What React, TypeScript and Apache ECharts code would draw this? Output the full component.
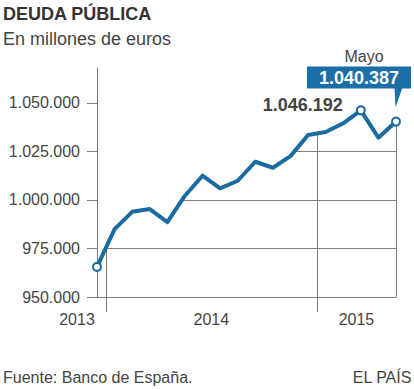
import React, { useEffect, useRef } from "react";
import * as echarts from "echarts";

const months = [
  "dic 2013", "ene 2014", "feb 2014", "mar 2014", "abr 2014", "may 2014",
  "jun 2014", "jul 2014", "ago 2014", "sep 2014", "oct 2014", "nov 2014",
  "dic 2014", "ene 2015", "feb 2015", "mar 2015", "abr 2015", "may 2015",
];
const values = [
  965500, 985000, 993900, 995300, 988600, 1002200, 1012500, 1006000, 1009900,
  1019700, 1016600, 1022600, 1033500, 1035000, 1039500, 1046192, 1032100, 1040387,
];
const yTicks = [950000, 975000, 1000000, 1025000, 1050000];
const gridLevels = [975000, 1000000, 1025000, 1050000];
const yearLabels = ["2013", "2014", "2015"];
const yearLabelPos = [0, 6.5, 14.75];
const yearBoundaries = [0.5, 12.5];
const peakIndex = 15;
const lastIndex = 17;
const lastLabel = "Mayo";

const FONT = "'Liberation Sans', Arial, sans-serif";
const BLUE = "#1a6b9f";
const BOX = "#1b6fa6";
const GRID = "#7d7d7d";
const TEXT = "#444";

const fmt = (v: number) =>
  Math.round(v).toString().replace(/\B(?=(\d{3})+(?!\d))/g, ".");

export default function App() {
  const ref = useRef<HTMLDivElement>(null);
  useEffect(() => {
    document.body.style.margin = "0";
    if (!ref.current) return;
    const chart = echarts.init(ref.current, null, { renderer: "svg" });
    const pts = values.map((v, i) => [i, v]);
    const mainData = pts.map((p, i) => {
      const item: any = { value: p, name: months[i], symbol: "none" };
      if (i === 0 || i === peakIndex || i === lastIndex) {
        item.symbol = "circle";
        item.symbolSize = 8;
      }
      if (i === peakIndex) {
        item.label = {
          show: true,
          position: "left",
          distance: 13,
          offset: [0, -5],
          formatter: () => fmt(values[peakIndex]),
          fontFamily: FONT,
          fontSize: 18,
          fontWeight: "bold",
          color: TEXT,
        };
      }
      if (i === lastIndex) {
        item.label = {
          show: true,
          position: "inside",
          offset: [-37, -56],
          align: "center",
          verticalAlign: "middle",
          formatter: () => `{m|${lastLabel}}\n{v|${fmt(values[lastIndex])}}`,
          rich: {
            m: {
              fontFamily: FONT,
              fontSize: 16,
              color: TEXT,
              lineHeight: 24,
              padding: [0, 0, 0, 10],
              align: "center",
            },
            v: {
              fontFamily: FONT,
              fontSize: 18,
              fontWeight: "bold",
              color: "#fff",
              backgroundColor: BOX,
              lineHeight: 18,
              padding: [2, 12, 2, 12],
              align: "center",
            },
          },
        };
      }
      return item;
    });

    const lineStyleGrid = { color: GRID, width: 1, type: "solid" as const };

    chart.setOption({
      animation: false,
      title: [
        {
          text: "DEUDA PÚBLICA",
          left: 3,
          top: 5,
          padding: 0,
          textStyle: { fontFamily: FONT, fontSize: 18, fontWeight: "bold", color: "#333" },
        },
        {
          text: "En millones de euros",
          left: 3,
          top: 30,
          padding: 0,
          textStyle: { fontFamily: FONT, fontSize: 18, fontWeight: "normal", color: TEXT },
        },
        {
          text: "Fuente: Banco de España.",
          left: 3,
          top: 369,
          padding: 0,
          textStyle: { fontFamily: FONT, fontSize: 16, fontWeight: "normal", color: TEXT },
        },
        {
          text: "EL PAÍS",
          right: 2,
          top: 369,
          padding: 0,
          textStyle: { fontFamily: FONT, fontSize: 16, fontWeight: "normal", color: TEXT },
        },
      ],
      grid: { left: 97, right: 18, top: 68, bottom: 92, containLabel: false },
      xAxis: {
        type: "value",
        min: 0,
        max: 17,
        z: 3,
        splitLine: { show: false },
        axisLine: { show: true, lineStyle: { color: GRID, width: 1 } },
        axisTick: {
          show: true,
          customValues: yearBoundaries,
          length: 15,
          lineStyle: { color: GRID, width: 1 },
        },
        axisLabel: {
          show: true,
          customValues: yearLabelPos,
          margin: 14,
          hideOverlap: false,
          fontFamily: FONT,
          fontSize: 16,
          color: TEXT,
          formatter: (v: number) => {
            const idx = yearLabelPos.findIndex((p) => Math.abs(p - v) < 1e-6);
            if (idx < 0) return "";
            return idx === 0 ? `{a|${yearLabels[idx]}}` : yearLabels[idx];
          },
          rich: {
            a: { fontFamily: FONT, fontSize: 16, color: TEXT, padding: [0, 40, 0, 0] },
          },
        },
      },
      yAxis: {
        type: "value",
        min: 950000,
        max: 1068000,
        z: 3,
        splitLine: { show: false },
        axisLine: { show: true, lineStyle: { color: GRID, width: 1 } },
        axisTick: {
          show: true,
          customValues: yTicks,
          length: 10,
          lineStyle: { color: GRID, width: 1 },
        },
        axisLabel: {
          show: true,
          customValues: yTicks,
          margin: 17,
          fontFamily: FONT,
          fontSize: 16,
          color: TEXT,
          formatter: (v: number) => fmt(v),
        },
      },
      series: [
        {
          type: "line",
          z: 1,
          silent: true,
          data: pts,
          symbol: "none",
          lineStyle: { opacity: 0, width: 0 },
          markLine: {
            z: 1,
            silent: true,
            symbol: ["none", "none"],
            label: { show: false },
            emphasis: { disabled: true },
            lineStyle: lineStyleGrid,
            data: [
              ...gridLevels.map((l) => ({ yAxis: l })),
              ...yearBoundaries.map((b) => ({ xAxis: b })),
              [
                { coord: [lastIndex, yTicks[0]] },
                { coord: [lastIndex, values[lastIndex]] },
              ],
            ],
          },
        },
        {
          type: "line",
          z: 2,
          silent: true,
          data: pts,
          symbol: "none",
          lineStyle: { opacity: 0, width: 0 },
          areaStyle: { color: "#fff", opacity: 1, origin: "end" },
        },
        {
          type: "line",
          z: 4,
          data: mainData,
          symbol: "none",
          showSymbol: true,
          lineStyle: { color: BLUE, width: 4, join: "round" },
          itemStyle: { color: "#fff", borderColor: BLUE, borderWidth: 2 },
          emphasis: { disabled: true },
          markPoint: {
            z: 5,
            silent: true,
            label: { show: false },
            data: [
              {
                coord: [lastIndex, values[lastIndex]],
                symbol: "path://M0,0 L8,0 L1,20 Z",
                symbolSize: [8, 20],
                symbolKeepAspect: false,
                symbolOffset: [2.5, -24],
                itemStyle: { color: BOX },
              },
            ],
          },
        },
      ],
    });
    return () => chart.dispose();
  }, []);
  return <div ref={ref} style={{ width: 414, height: 389 }} />;
}
